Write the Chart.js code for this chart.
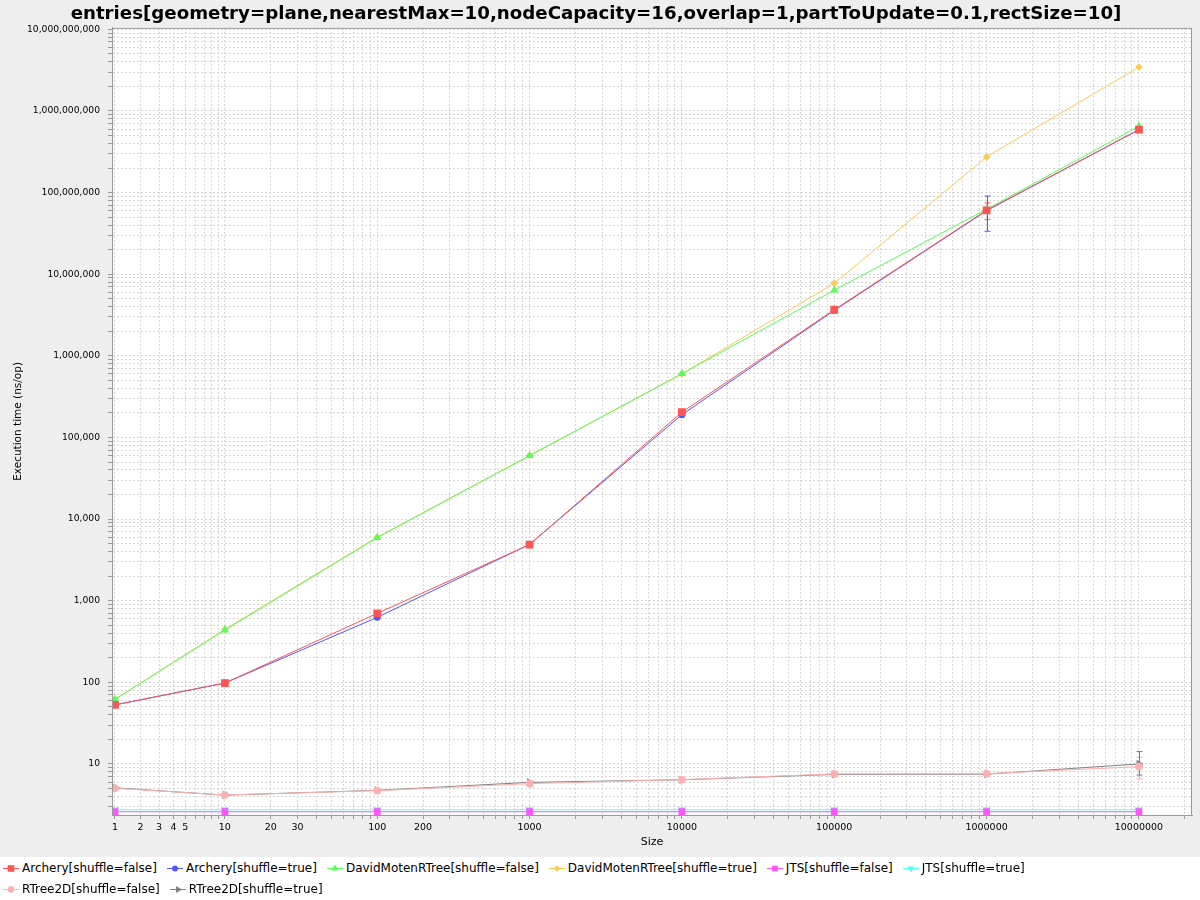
<!DOCTYPE html>
<html>
<head>
<meta charset="utf-8">
<script src="https://cdn.jsdelivr.net/npm/chart.js@4.4.1/dist/chart.umd.min.js"></script>
<style>
  html, body { margin: 0; padding: 0; background: #eeeeee; }
  #wrap { position: relative; width: 1200px; height: 857px; }
  #legend { position: absolute; top: 857px; left: 0; width: 1200px; height: 43px; background: #ffffff;
    font-family: 'DejaVu Sans', sans-serif; font-size: 12px; color: #000; }
  #legend .rows { width: 1080px; padding-left: 3px; display: flex; flex-wrap: wrap; }
  #legend .item { display: inline-flex; align-items: center; height: 21px; margin-right: 10px; white-space: nowrap; }
  #legend canvas { margin-right: 3px; }
</style>
</head>
<body>
<div id="wrap"><canvas id="chart" width="1200" height="857"></canvas></div>
<div id="legend"><div class="rows"></div></div>
<script>
// benchmark sizes (x) and execution times in ns/op (y)
var sizes = [1, 10, 100, 1000, 10000, 100000, 1000000, 10000000];

var archeryFalse = [53, 98, 700, 4870, 204000, 3670000, 60700000, 589000000];
var archeryTrue = [53, 98, 625, 4900, 190000, 3600000, 60000000, 590000000];
var davidFalse = [62, 437, 5930, 59800, 604000, 6370000, 62500000, 650000000];
var davidTrue = [62, 445, 6000, 60000, 600000, 7760000, 274000000, 3450000000];
var jtsFalse = [2.6, 2.6, 2.6, 2.6, 2.6, 2.6, 2.6, 2.6];
var jtsTrue = [2.75, 2.75, 2.75, 2.75, 2.75, 2.75, 2.75, 2.75];
var rtreeFalse = [5.04, 4.17, 4.71, 5.74, 6.43, 7.55, 7.6, 9.27];
var rtreeTrue = [5.1, 4.15, 4.75, 5.95, 6.4, 7.45, 7.5, 10.0];

// error bars (low / high), null where none is drawn
var archeryFalseLow = [null, null, null, null, null, null, 47000000, null];
var archeryFalseHigh = [null, null, null, null, null, null, 74700000, null];
var archeryTrueLow = [null, null, null, null, null, null, 33600000, null];
var archeryTrueHigh = [null, null, null, null, null, null, 90800000, null];
var rtreeFalseLow = [null, null, null, 5.3, null, null, null, 6.55];
var rtreeFalseHigh = [null, null, null, 6.2, null, null, null, 12.1];
var rtreeTrueLow = [null, null, null, null, null, null, null, 7.3];
var rtreeTrueHigh = [null, null, null, null, null, null, null, 14.2];

// tick labels
var xTickLabels = ['1', '2', '3', '4', '5', '10', '20', '30', '100', '200', '1000', '10000', '100000', '1000000', '10000000'];
var yTickLabels = ['10', '100', '1,000', '10,000', '100,000', '1,000,000', '10,000,000', '100,000,000', '1,000,000,000', '10,000,000,000'];

var FONT = "'DejaVu Sans', sans-serif";

// log axis like jfreechart's LogarithmicAxis: values below 10 are squeezed (v + (10 - v) / 10)
function adjLog(v) {
  return Math.log10(v < 10 ? v + (10 - v) / 10 : v);
}
class AdjLogScale extends Chart.LogarithmicScale {
  configure() {
    super.configure();
    this._startValue = adjLog(this.min);
    this._valueRange = adjLog(this.max) - adjLog(this.min);
  }
  getPixelForValue(value) {
    if (value === null || value === undefined || isNaN(value)) return NaN;
    return this.getPixelForDecimal((adjLog(value) - this._startValue) / this._valueRange);
  }
  getValueForPixel(pixel) {
    var v = Math.pow(10, this._startValue + this.getDecimalForPixel(pixel) * this._valueRange);
    return v < 10 ? (v - 1) / 0.9 : v;
  }
}
AdjLogScale.id = 'adjlog';
AdjLogScale.defaults = {};
Chart.register(AdjLogScale);

function points(values) {
  return sizes.map(function (s, i) { return { x: s, y: values[i] }; });
}

var series = [
  { label: 'Archery[shuffle=false]', data: archeryFalse, color: '#ff5555', style: 'rect', radius: 5.5, rot: 0, low: archeryFalseLow, high: archeryFalseHigh },
  { label: 'Archery[shuffle=true]', data: archeryTrue, color: '#5555ff', style: 'circle', radius: 3.5, rot: 0, low: archeryTrueLow, high: archeryTrueHigh },
  { label: 'DavidMotenRTree[shuffle=false]', data: davidFalse, color: '#55ff55', style: 'triangle', radius: 4.8, rot: 0 },
  { label: 'DavidMotenRTree[shuffle=true]', data: davidTrue, color: '#ffc853', style: 'rectRot', radius: 3.8, rot: 0 },
  { label: 'JTS[shuffle=false]', data: jtsFalse, color: '#ff55ff', style: 'rect', radius: 4.8, rot: 0 },
  { label: 'JTS[shuffle=true]', data: jtsTrue, color: '#55ffff', style: 'triangle', radius: 4.8, rot: 180 },
  { label: 'RTree2D[shuffle=false]', data: rtreeFalse, color: '#ffafaf', style: 'circle', radius: 3.8, rot: 0, low: rtreeFalseLow, high: rtreeFalseHigh },
  { label: 'RTree2D[shuffle=true]', data: rtreeTrue, color: '#808080', style: 'triangle', radius: 4.8, rot: 90, low: rtreeTrueLow, high: rtreeTrueHigh }
];

var datasets = series.map(function (s) {
  return {
    label: s.label,
    data: points(s.data),
    borderColor: s.color,
    backgroundColor: s.color,
    borderWidth: 1,
    pointStyle: s.style,
    pointRadius: s.radius,
    pointRotation: s.rot,
    pointBorderWidth: 0,
    tension: 0,
    errLow: s.low,
    errHigh: s.high
  };
});

// x ticks at 1..9 of every decade, labels only for a few
var xTicks = [];
for (var d = 1; d <= 10000000; d *= 10) {
  for (var m = 1; m <= 9; m++) xTicks.push(m * d);
}
xTicks.push(20000000);

var yTicks = [];
for (var k = 1; k <= 1000000000; k *= 10) {
  for (var n = 1; n <= 9; n++) if (n * k >= 2.4) yTicks.push(n * k);
}
yTicks.push(10000000000);

var plotBg = {
  id: 'plotBg',
  beforeDraw: function (chart) {
    var a = chart.chartArea, ctx = chart.ctx;
    ctx.save();
    ctx.fillStyle = '#ffffff';
    ctx.fillRect(a.left, a.top, a.right - a.left, a.bottom - a.top);
    ctx.restore();
  },
  afterDraw: function (chart) {
    var a = chart.chartArea, ctx = chart.ctx;
    ctx.save();
    ctx.strokeStyle = '#9a9a9a';
    ctx.lineWidth = 1;
    ctx.strokeRect(a.left + 0.5, a.top + 0.5, a.right - a.left - 1, a.bottom - a.top);
    ctx.restore();
  }
};

var errorBars = {
  id: 'errorBars',
  beforeDatasetsDraw: function (chart) {
    var ctx = chart.ctx, x = chart.scales.x, y = chart.scales.y;
    chart.data.datasets.forEach(function (ds) {
      if (!ds.errLow) return;
      ds.errLow.forEach(function (lo, j) {
        if (lo === null) return;
        var px = Math.round(x.getPixelForValue(sizes[j])) + 0.5;
        var y1 = y.getPixelForValue(lo), y2 = y.getPixelForValue(ds.errHigh[j]);
        ctx.save();
        ctx.strokeStyle = ds.borderColor;
        ctx.lineWidth = 1;
        ctx.beginPath();
        ctx.moveTo(px, y1); ctx.lineTo(px, y2);
        ctx.moveTo(px - 3, y1); ctx.lineTo(px + 3, y1);
        ctx.moveTo(px - 3, y2); ctx.lineTo(px + 3, y2);
        ctx.stroke();
        ctx.restore();
      });
    });
  }
};

new Chart(document.getElementById('chart'), {
  type: 'line',
  data: { datasets: datasets },
  options: {
    responsive: false,
    animation: false,
    events: [],
    layout: { padding: { left: 0, right: 8, top: 0, bottom: 0 } },
    plugins: {
      legend: { display: false },
      tooltip: { enabled: false },
      title: {
        display: true,
        text: 'entries[geometry=plane,nearestMax=10,nodeCapacity=16,overlap=1,partToUpdate=0.1,rectSize=10]',
        color: '#000',
        font: { family: FONT, size: 18.2, weight: 'bold' },
        padding: { top: 3, bottom: 3 }
      }
    },
    scales: {
      x: {
        type: 'adjlog',
        min: 0.907,
        max: 22300000,
        bounds: 'data',
        afterBuildTicks: function (scale) {
          scale.ticks = xTicks.map(function (v) { return { value: v }; });
        },
        afterFit: function (scale) { scale.height = 42; },
        ticks: {
          autoSkip: false,
          maxRotation: 0,
          padding: 3,
          color: '#000',
          font: { family: FONT, size: 9.5 },
          callback: function (value) {
            var s = String(value);
            return xTickLabels.indexOf(s) >= 0 ? s : '';
          }
        },
        grid: { color: '#d6d6d6', tickColor: '#9a9a9a', tickLength: 4 },
        border: { color: '#9a9a9a', dash: [2, 2] },
        title: { display: true, text: 'Size', color: '#000', font: { family: FONT, size: 11 }, padding: { top: 0, bottom: 8 } }
      },
      y: {
        type: 'logarithmic',
        min: 2.37,
        max: 10430000000,
        bounds: 'data',
        afterBuildTicks: function (scale) {
          scale.ticks = yTicks.map(function (v) { return { value: v }; });
        },
        afterFit: function (scale) { scale.width = 112; },
        ticks: {
          autoSkip: false,
          padding: 8,
          color: '#000',
          font: { family: FONT, size: 9.2 },
          callback: function (value) {
            var s = Number(value).toLocaleString('en-US');
            return yTickLabels.indexOf(s) >= 0 ? s : '';
          }
        },
        grid: { color: '#d6d6d6', tickColor: '#9a9a9a', tickLength: 4 },
        border: { color: '#9a9a9a', dash: [2, 2] },
        title: { display: true, text: 'Execution time (ns/op)', color: '#000', font: { family: FONT, size: 10.5 }, padding: { top: 12, bottom: 0 } }
      }
    }
  },
  plugins: [plotBg, errorBars]
});

// html legend: short line with the series marker, then the name
var rows = document.querySelector('#legend .rows');
series.forEach(function (s) {
  var item = document.createElement('span');
  item.className = 'item';
  var icon = document.createElement('canvas');
  icon.width = 16; icon.height = 10;
  var c = icon.getContext('2d');
  c.strokeStyle = s.color; c.fillStyle = s.color; c.lineWidth = 1;
  c.beginPath(); c.moveTo(0, 5.5); c.lineTo(16, 5.5); c.stroke();
  Chart.helpers.drawPoint(c, { pointStyle: s.style, rotation: s.rot, radius: s.radius * 0.85, borderWidth: 0 }, 8, 5.5);
  item.appendChild(icon);
  var txt = document.createElement('span');
  txt.textContent = s.label;
  item.appendChild(txt);
  rows.appendChild(item);
});
</script>
</body>
</html>
